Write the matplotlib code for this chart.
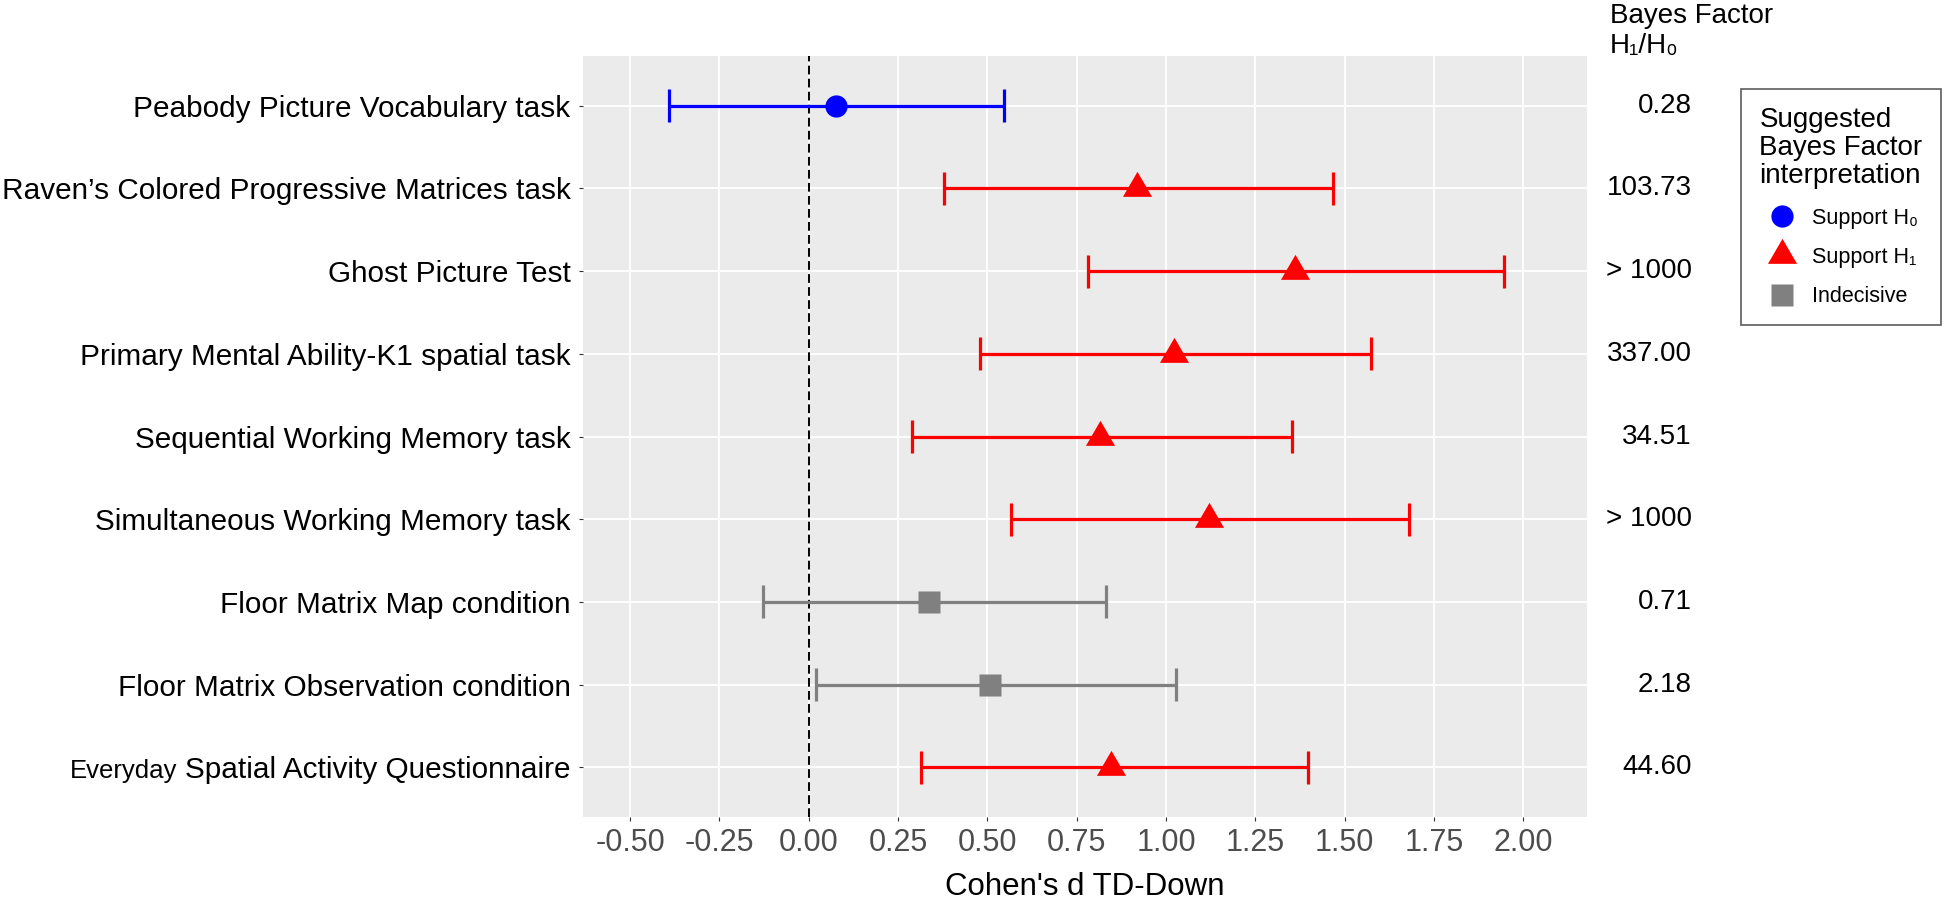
import matplotlib
matplotlib.use('Agg')
import matplotlib.pyplot as plt
from matplotlib.transforms import blended_transform_factory, IdentityTransform
from matplotlib.path import Path
import numpy as np

plt.rcParams['font.family'] = ['Liberation Sans', 'DejaVu Sans']

# data (top row first)
tasks = [
    'Peabody Picture Vocabulary task',
    'Raven\u2019s Colored Progressive Matrices task',
    'Ghost Picture Test',
    'Primary Mental Ability-K1 spatial task',
    'Sequential Working Memory task',
    'Simultaneous Working Memory task',
    'Floor Matrix Map condition',
    'Floor Matrix Observation condition',
    'Everyday Spatial Activity Questionnaire',
]
d_est = [0.075, 0.918, 1.362, 1.021, 0.815, 1.119, 0.335, 0.508, 0.845]
ci_low = [-0.390, 0.377, 0.780, 0.478, 0.290, 0.566, -0.129, 0.021, 0.313]
ci_high = [0.545, 1.466, 1.945, 1.574, 1.353, 1.679, 0.832, 1.027, 1.396]
bayes_factor = ['0.28', '103.73', '> 1000', '337.00', '34.51', '> 1000', '0.71', '2.18', '44.60']
support = ['H0', 'H1', 'H1', 'H1', 'H1', 'H1', 'Indecisive', 'Indecisive', 'H1']

# triangle centred on its centroid, a bit wider than tall like ggplot's shape 17
tri = Path([(-0.5, -0.287), (0.5, -0.287), (0.0, 0.573), (-0.5, -0.287)], closed=True)
styles = {
    'H0': dict(color='#0000FF', marker='o', ms=16, label='Support H\u2080'),
    'H1': dict(color='#FF0000', marker=tri, ms=24, label='Support H\u2081'),
    'Indecisive': dict(color='#808080', marker='s', ms=16.5, label='Indecisive'),
}

W, H = 1950, 900
fig = plt.figure(figsize=(W / 100, H / 100), dpi=100)
ax = fig.add_axes([583 / W, 1 - 817 / H, (1587 - 583) / W, (817 - 56) / H])
ax.set_facecolor('#EBEBEB')
for s in ax.spines.values():
    s.set_visible(False)

y = np.arange(len(tasks))[::-1] + 1
est = np.array(d_est)
lo = np.array(ci_low)
hi = np.array(ci_high)

ax.axvline(0, color='black', lw=1.4, ls=(0, (4.5, 2.2)), zorder=1.5)

handles = []
for cat in ['H0', 'H1', 'Indecisive']:
    st = styles[cat]
    idx = np.array([i for i, s in enumerate(support) if s == cat])
    ax.hlines(y[idx], lo[idx], hi[idx], color=st['color'], lw=2.3, zorder=3)
    ax.vlines(lo[idx], y[idx] - 0.2, y[idx] + 0.2, color=st['color'], lw=2.3, zorder=3)
    ax.vlines(hi[idx], y[idx] - 0.2, y[idx] + 0.2, color=st['color'], lw=2.3, zorder=3)
    h, = ax.plot(est[idx], y[idx], ls='none', marker=st['marker'], ms=st['ms'],
                 color=st['color'], mec='none', zorder=4, label=st['label'])
    handles.append(h)

xt = np.arange(-0.5, 2.01, 0.25)
ax.set_xticks(xt)
ax.set_xticklabels(['%.2f' % v for v in xt])
ax.set_xlim(-0.632, 2.178)
ax.set_ylim(0.4, len(tasks) + 0.6)

labels = list(tasks)
labels[-1] = 'Spatial Activity Questionnaire'
ax.set_yticks(y)
ax.set_yticklabels(labels)

ax.grid(color='white', lw=1.3)
ax.set_axisbelow(True)
ax.tick_params(axis='both', length=3, width=0.8, color='#333333')
ax.tick_params(axis='y', labelsize=21.4, labelcolor='black', pad=6)
ax.tick_params(axis='x', labelsize=22, labelcolor='#4D4D4D', pad=5)
ax.set_xlabel("Cohen's d TD-Down", fontsize=22.5, labelpad=10)

# Bayes factor column
trans = blended_transform_factory(fig.transFigure, ax.transData)
for yi, bf in zip(y, bayes_factor):
    ax.text(1692 / W, yi, bf, transform=trans, ha='right', va='center', fontsize=20)
fig.text(1610 / W, 1 - 23 / H, 'Bayes Factor', ha='left', va='baseline', fontsize=20)
fig.text(1610 / W, 1 - 53 / H, 'H\u2081/H\u2080', ha='left', va='baseline', fontsize=20)

leg = ax.legend(handles=handles, loc='upper left', bbox_to_anchor=(1741 / W, 1 - 89 / H),
                bbox_transform=fig.transFigure, borderaxespad=0, fontsize=15.5,
                title='Suggested\nBayes Factor\ninterpretation', title_fontsize=20,
                alignment='left', frameon=True, fancybox=False, borderpad=0.85,
                handlelength=2.1, handletextpad=0.35, labelspacing=0.85, numpoints=1)
leg.get_frame().set_edgecolor('#333333')
leg.get_frame().set_linewidth(1.2)
leg.get_title().set_linespacing(1.1)

# "Everyday" is set in a smaller size in front of the last label, on the same baseline
fig.canvas.draw()
renderer = fig.canvas.get_renderer()
last = [t for t in ax.get_yticklabels() if t.get_text() == labels[-1]][0]
bb = last.get_window_extent(renderer)
_, _, descent = last._get_layout(renderer)
fig.text(bb.x0 - 8, bb.y0 + descent, 'Everyday', transform=IdentityTransform(),
         ha='right', va='baseline', fontsize=18.5)

fig.savefig('out.png', dpi=100)
